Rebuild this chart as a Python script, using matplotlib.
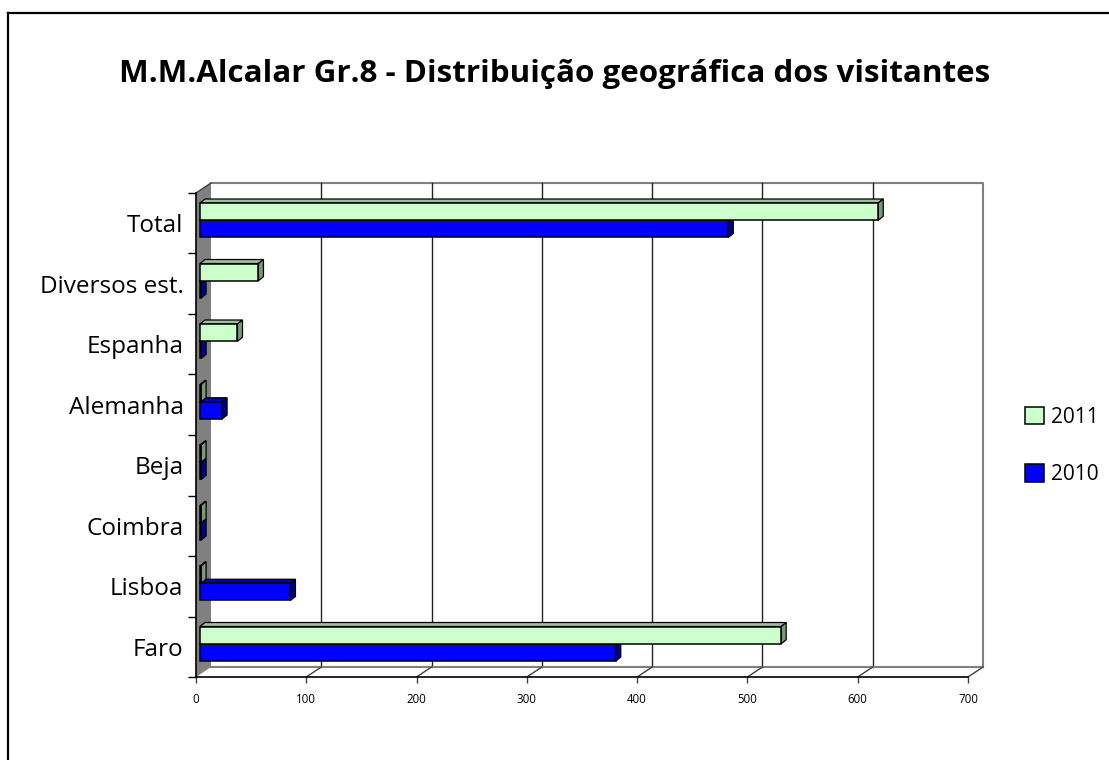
"""Alcalar visitors by origin, 2010 vs 2011 (Excel-style 3D horizontal bars)."""

import matplotlib

matplotlib.use("Agg")
import matplotlib.pyplot as plt
from matplotlib.lines import Line2D
from matplotlib.patches import Polygon
from matplotlib.transforms import IdentityTransform, ScaledTranslation

plt.rcParams["font.family"] = ["Open Sans", "DejaVu Sans"]

TITLE = "M.M.Alcalar Gr.8 - Distribuição geográfica dos visitantes"
CATEGORIES = ["Faro", "Lisboa", "Coimbra", "Beja", "Alemanha", "Espanha", "Diversos est.", "Total"]
VISITORS_2011 = [527, 1, 1, 1, 1, 34, 53, 615]
VISITORS_2010 = [377, 82, 1, 1, 20, 1, 1, 479]
SERIES = ["2011", "2010"]
X_TICKS = [0, 100, 200, 300, 400, 500, 600, 700]

W, H, DPI = 1109, 760, 100
DEPTH = (15, 10)      # px, wall depth (right, up)
BAR_OFF = (4, 3)      # px, bar front plane behind the front axis
BAR_D = (5, 4)        # px, bar thickness
BAR_H = 0.285

FACE = {"2011": "#CCFFCC", "2010": "#0000FF"}
TOP = {"2011": "#9DBF9D", "2010": "#0000C0"}
SIDE = {"2011": "#7A997A", "2010": "#000090"}

fig = plt.figure(figsize=(W / DPI, H / DPI), dpi=DPI)
ax = fig.add_axes([196 / W, 1 - 677 / H, (968 - 196) / W, (677 - 193) / H])
ax.set_xlim(0, 700)
ax.set_ylim(-0.5, len(CATEGORIES) - 0.5)
for s in ax.spines.values():
    s.set_visible(False)
ax.patch.set_visible(False)

ident = IdentityTransform()


def px(x, y, off=(0, 0)):
    a, b = ax.transData.transform((x, y))
    return a + off[0], b + off[1]


def poly(points, **kw):
    ax.add_patch(Polygon(points, closed=True, transform=ident, clip_on=False, **kw))


def line(points, **kw):
    xs, ys = zip(*points)
    ax.add_line(Line2D(xs, ys, transform=ident, clip_on=False, **kw))


y0, y1 = ax.get_ylim()
# left wall
poly([px(0, y0), px(0, y1), px(0, y1, DEPTH), px(0, y0, DEPTH)], facecolor="#808080", edgecolor="none", zorder=1)
line([px(0, y1), px(0, y1, DEPTH)], color="#404040", lw=1.0, zorder=2)
# back wall border and gridlines
line([px(0, y1, DEPTH), px(700, y1, DEPTH), px(700, y0, DEPTH)], color="#808080", lw=1.5, zorder=1)
for v in X_TICKS[1:-1]:
    line([px(v, y0, DEPTH), px(v, y1, DEPTH)], color="#222222", lw=1.0, zorder=1)
# floor
line([px(0, y0, DEPTH), px(700, y0, DEPTH)], color="#808080", lw=1.5, zorder=1)
for v in X_TICKS[1:]:
    line([px(v, y0), px(v, y0, DEPTH)], color="#404040", lw=1.0, zorder=1)
# front axes
line([px(0, y0), px(0, y1)], color="black", lw=1.2, zorder=2)
line([px(0, y0), px(700, y0)], color="black", lw=1.2, zorder=2)

# bars: front face through barh, top and side faces as parallelograms
shift = ax.transData + ScaledTranslation(BAR_OFF[0] / DPI, BAR_OFF[1] / DPI, fig.dpi_scale_trans)
ypos = list(range(len(CATEGORIES)))
handles = {}
for name, values, dy in [("2010", VISITORS_2010, -BAR_H), ("2011", VISITORS_2011, 0.0)]:
    bars = ax.barh([y + dy for y in ypos], values, height=BAR_H, align="edge", color=FACE[name],
                   edgecolor="black", linewidth=1.1, transform=shift, clip_on=False, zorder=4)
    handles[name] = bars
    for y, v in zip(ypos, values):
        b, t = y + dy, y + dy + BAR_H
        fo = BAR_OFF
        bo = (BAR_OFF[0] + BAR_D[0], BAR_OFF[1] + BAR_D[1])
        poly([px(0, t, fo), px(v, t, fo), px(v, t, bo), px(0, t, bo)],
             facecolor=TOP[name], edgecolor="black", lw=0.9, zorder=3.5)
        poly([px(v, b, fo), px(v, t, fo), px(v, t, bo), px(v, b, bo)],
             facecolor=SIDE[name], edgecolor="black", lw=0.9, zorder=3.5)

# ticks
ax.set_yticks([y - 0.5 for y in range(len(CATEGORIES) + 1)])
ax.set_yticklabels([])
ax.set_yticks(ypos, minor=True)
ax.set_yticklabels(CATEGORIES, minor=True, fontsize=17.5)
ax.tick_params(axis="y", which="major", length=5.8, width=1.0, color="black", direction="out")
ax.tick_params(axis="y", which="minor", length=0, pad=9)
ax.set_xticks(X_TICKS)
ax.set_xticklabels([str(v) for v in X_TICKS], fontsize=8.3)
ax.tick_params(axis="x", length=4.3, width=1.0, color="#404040", pad=7)

fig.text(555 / W, 1 - 74 / H, TITLE, ha="center", va="center", fontsize=22.6, fontweight="bold")

fig.legend([handles[s] for s in SERIES], SERIES, loc="center left",
           bbox_to_anchor=(1006 / W, 1 - 446 / H), frameon=False, fontsize=15,
           handlelength=0.9, handleheight=0.9, labelspacing=1.75, handletextpad=0.35)

# chart frame (only top and left edges are visible in the crop)
fig.add_artist(Line2D([8 / W, 8 / W], [0, 1 - 13 / H], transform=fig.transFigure, color="black", lw=1.6))
fig.add_artist(Line2D([8 / W, 1], [1 - 13 / H, 1 - 13 / H], transform=fig.transFigure, color="black", lw=1.6))

fig.savefig("out.png", dpi=DPI)
